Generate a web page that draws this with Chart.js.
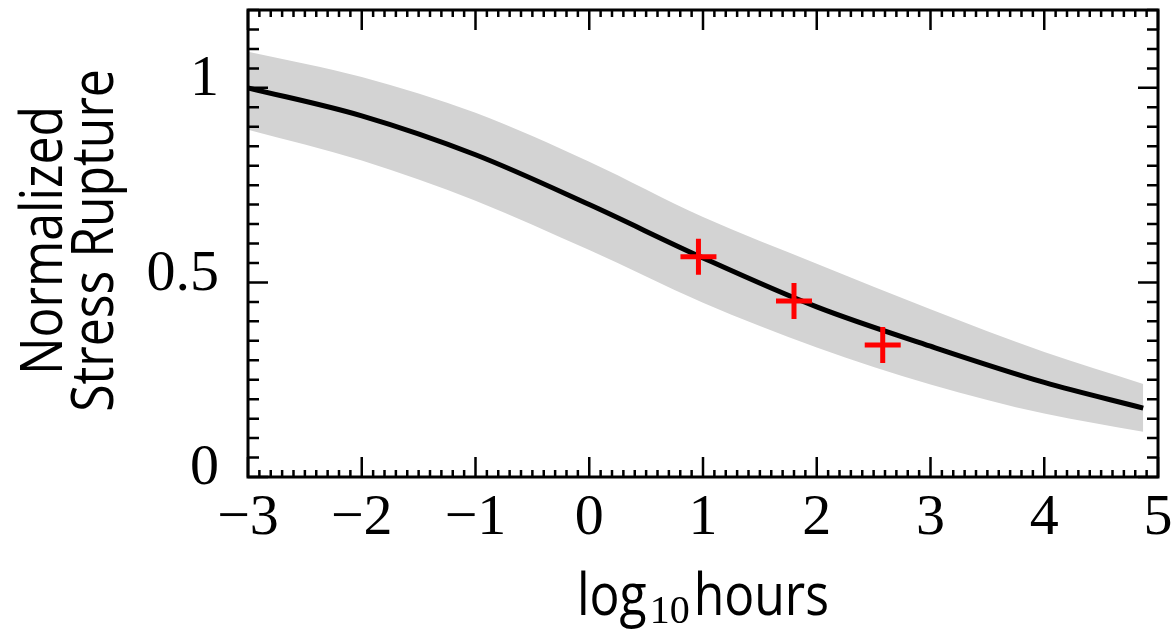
<!DOCTYPE html>
<html>
<head>
<meta charset="utf-8">
<script src="https://cdn.jsdelivr.net/npm/chart.js@4/dist/chart.umd.min.js"></script>
<style>
  html, body { margin: 0; padding: 0; background: #fff; }
  #wrap { width: 1173px; height: 630px; }
</style>
</head>
<body>
<div id="wrap"><canvas id="ruptureChart"></canvas></div>
<script>
// values
const logHours = [-3, -2, -1, 0, 1, 2, 3, 4, 4.87];
const fitMedian = [1.0, 0.928, 0.828, 0.70, 0.563, 0.437, 0.336, 0.243, 0.177];
const bandUpper = [1.093, 1.028, 0.936, 0.81, 0.668, 0.548, 0.431, 0.321, 0.239];
const bandLower = [0.892, 0.813, 0.71, 0.583, 0.448, 0.333, 0.238, 0.163, 0.116];
const testHours = [0.96, 1.80, 2.58];
const testStress = [0.566, 0.452, 0.339];
const yLabelValues = [0, 0.5, 1];

const sansFont = '"Open Sans", "DejaVu Sans", sans-serif';
const serifFont = '"Liberation Serif", "DejaVu Serif", serif';
const squeeze = 0.86;

function pts(xs, ys) {
    return xs.map((x, i) => ({ x: x, y: ys[i] }));
}

function fmtNum(v) {
    return v < 0 ? '\u2212' + Math.abs(v) : String(v);
}

// pin the plot box to where it sits in the figure
const boxPlugin = {
    id: 'box',
    afterLayout(chart) {
        const { x, y } = chart.scales;
        const area = { left: 248, top: 10, right: 1158, bottom: 477 };
        Object.assign(chart.chartArea, area, {
            width: area.right - area.left,
            height: area.bottom - area.top
        });
        x.left = area.left; x.right = area.right; x.width = area.right - area.left;
        x.top = area.bottom;
        y.top = area.top; y.bottom = area.bottom; y.height = area.bottom - area.top;
        y.right = area.left;
        x.configure();
        y.configure();
    }
};

// boxed frame with inward ticks on all four sides, plus axis titles
const framePlugin = {
    id: 'frame',
    afterDraw(chart) {
        const { ctx, chartArea: a, scales: { x, y } } = chart;
        ctx.save();
        ctx.strokeStyle = '#000';
        ctx.lineWidth = 2.5;
        ctx.beginPath();
        for (let i = 0; i <= 80; i++) {
            const px = x.getPixelForValue(x.min + i * 0.1);
            const len = i % 10 === 0 ? 20 : 7;
            ctx.moveTo(px, a.bottom); ctx.lineTo(px, a.bottom - len);
            ctx.moveTo(px, a.top); ctx.lineTo(px, a.top + len);
        }
        for (let i = 0; i <= 24; i++) {
            const py = y.getPixelForValue(i * 0.05);
            const len = i % 10 === 0 ? 20 : 11;
            ctx.moveTo(a.left, py); ctx.lineTo(a.left + len, py);
            ctx.moveTo(a.right, py); ctx.lineTo(a.right - len, py);
        }
        ctx.stroke();
        ctx.lineWidth = 3;
        ctx.strokeRect(a.left, a.top, a.right - a.left, a.bottom - a.top);

        // x title: log_10 hours
        ctx.fillStyle = '#000';
        ctx.textBaseline = 'alphabetic';
        ctx.textAlign = 'left';
        ctx.font = '58px ' + sansFont;
        const wLog = ctx.measureText('log').width * squeeze;
        const wHours = ctx.measureText('hours').width * squeeze;
        ctx.font = '40px ' + serifFont;
        const wSub = ctx.measureText('10').width;
        const total = wLog + 3 + wSub + 4 + wHours;
        let cx = (a.left + a.right) / 2 - total / 2;
        const base = a.bottom + 138;
        ctx.font = '58px ' + sansFont;
        ctx.save(); ctx.translate(cx, base); ctx.scale(squeeze, 1); ctx.fillText('log', 0, 0); ctx.restore();
        cx += wLog + 3;
        ctx.font = '40px ' + serifFont;
        ctx.fillText('10', cx, base + 8);
        cx += wSub + 4;
        ctx.font = '58px ' + sansFont;
        ctx.save(); ctx.translate(cx, base); ctx.scale(squeeze, 1); ctx.fillText('hours', 0, 0); ctx.restore();

        // y title, two lines
        const cy = (a.top + a.bottom) / 2 - 3;
        ctx.textAlign = 'center';
        [['Normalized', 62], ['Stress Rupture', 113]].forEach(([txt, bx]) => {
            ctx.save();
            ctx.translate(bx, cy);
            ctx.rotate(-Math.PI / 2);
            ctx.scale(squeeze, 1);
            ctx.fillText(txt, 0, 0);
            ctx.restore();
        });
        ctx.restore();
    }
};

const ctx = document.getElementById('ruptureChart').getContext('2d');
new Chart(ctx, {
    type: 'line',
    data: {
        datasets: [
            {
                label: 'upper',
                data: pts(logHours, bandUpper),
                borderWidth: 0,
                pointRadius: 0,
                backgroundColor: '#d3d3d3',
                fill: '+1',
                cubicInterpolationMode: 'monotone',
                order: 3
            },
            {
                label: 'lower',
                data: pts(logHours, bandLower),
                borderWidth: 0,
                pointRadius: 0,
                fill: false,
                cubicInterpolationMode: 'monotone',
                order: 2
            },
            {
                label: 'fit',
                data: pts(logHours, fitMedian),
                borderColor: '#000',
                borderWidth: 5,
                pointRadius: 0,
                fill: false,
                cubicInterpolationMode: 'monotone',
                order: 1
            },
            {
                label: 'tests',
                data: pts(testHours, testStress),
                showLine: false,
                pointStyle: 'cross',
                pointRadius: 18,
                pointBorderWidth: 5,
                pointBorderColor: '#ff0000',
                fill: false,
                order: 0
            }
        ]
    },
    options: {
        responsive: true,
        maintainAspectRatio: false,
        animation: false,
        layout: { padding: { top: 10, right: 15, left: 0, bottom: 0 } },
        plugins: {
            legend: { display: false },
            tooltip: { enabled: false }
        },
        scales: {
            x: {
                type: 'linear',
                min: -3,
                max: 5,
                grid: { display: false, drawTicks: true, tickLength: 13 },
                border: { display: false },
                ticks: {
                    stepSize: 1,
                    maxRotation: 0,
                    padding: 0,
                    color: '#000',
                    font: { family: serifFont, size: 58, lineHeight: 1 },
                    callback: v => fmtNum(v)
                },
                afterFit: s => { s.height = 153; }
            },
            y: {
                min: 0,
                max: 1.2,
                grid: { display: false, drawTicks: true, tickLength: 29 },
                border: { display: false },
                afterBuildTicks: s => { s.ticks = s.ticks.filter(t => t.value <= 1.0001); },
                ticks: {
                    stepSize: 0.5,
                    padding: 0,
                    labelOffset: -8,
                    color: '#000',
                    font: { family: serifFont, size: 58, lineHeight: 0.3 },
                    callback: v => yLabelValues.some(t => Math.abs(t - v) < 1e-9) ? String(v) : ''
                },
                afterFit: s => { s.width = 248; }
            }
        }
    },
    plugins: [boxPlugin, framePlugin]
});
</script>
</body>
</html>
